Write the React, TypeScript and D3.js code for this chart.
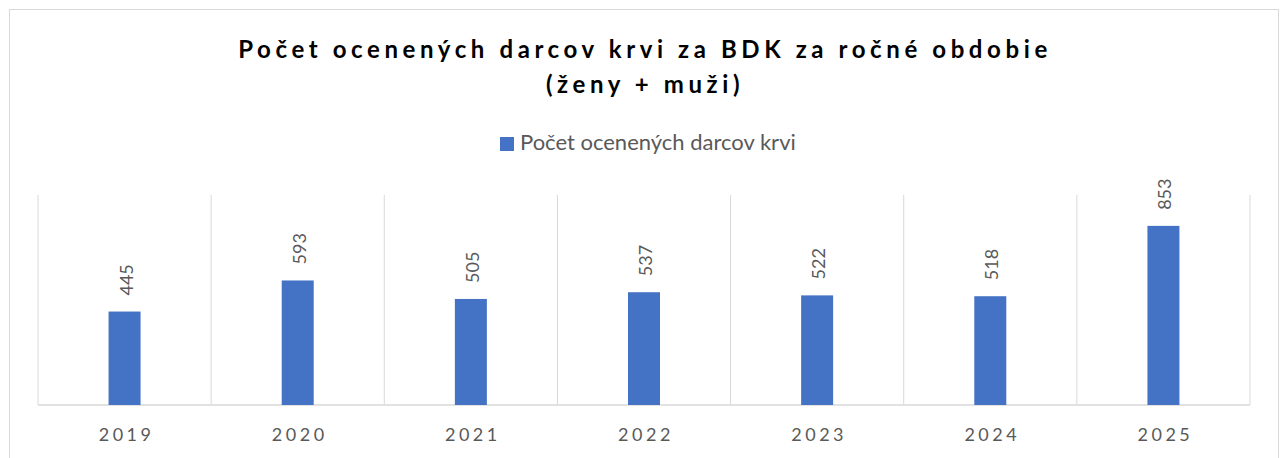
import React from "react";
import * as d3 from "d3";

const categories = ["2019", "2020", "2021", "2022", "2023", "2024", "2025"];
const values = [445, 593, 505, 537, 522, 518, 853];
const seriesName = "Počet ocenených darcov krvi";
const titleLines = ["Počet ocenených darcov krvi za BDK za ročné obdobie", "(ženy + muži)"];

const W = 1281;
const H = 458;
const FONT = "Lato, 'Open Sans', 'Liberation Sans', sans-serif";

export default function App() {
  const left = 38, right = 1250, top = 195, bottom = 405;
  const x = d3.scaleBand<string>().domain(categories).range([left, right]).paddingInner(0).paddingOuter(0);
  const y = d3.scaleLinear().domain([0, 1000]).range([bottom, top]);
  const barW = 32;
  const gridXs = [...categories.map((c) => x(c) as number), right];

  return (
    <svg width={W} height={H} style={{ position: "absolute", left: 0, top: 0 }}>
      <rect x={0} y={0} width={W} height={H} fill="#fff" />
      <rect x={9.5} y={9.5} width={1269} height={460} fill="#fff" stroke="#d9d9d9" strokeWidth={1} />
      {titleLines.map((t, i) => (
        <text key={i} x={645} y={58 + i * 35} textAnchor="middle" fontFamily={FONT} fontWeight="bold"
          fontSize={24} letterSpacing={4.6} fill="#000">{t}</text>
      ))}
      <rect x={500} y={137} width={14} height={14} fill="#4472c4" />
      <text x={520} y={150} fontFamily={FONT} fontSize={22} fill="#595959">{seriesName}</text>
      {gridXs.map((gx, i) => (
        <line key={i} x1={gx} x2={gx} y1={top} y2={bottom} stroke="#d9d9d9" strokeWidth={1} />
      ))}
      <line x1={left} x2={right} y1={bottom} y2={bottom} stroke="#d9d9d9" strokeWidth={1.5} />
      {categories.map((c, i) => {
        const cx = (x(c) as number) + x.bandwidth() / 2;
        const yt = y(values[i]);
        return (
          <g key={c}>
            <rect x={cx - barW / 2} y={yt} width={barW} height={bottom - yt} fill="#4472c4" />
            <text transform={`translate(${cx + 8},${yt - 16}) rotate(-90)`} fontFamily={FONT}
              fontSize={18} fill="#595959">{values[i]}</text>
            <text x={cx + 2} y={441} textAnchor="middle" fontFamily={FONT} fontSize={18}
              letterSpacing={3.5} fill="#595959">{c}</text>
          </g>
        );
      })}
    </svg>
  );
}
